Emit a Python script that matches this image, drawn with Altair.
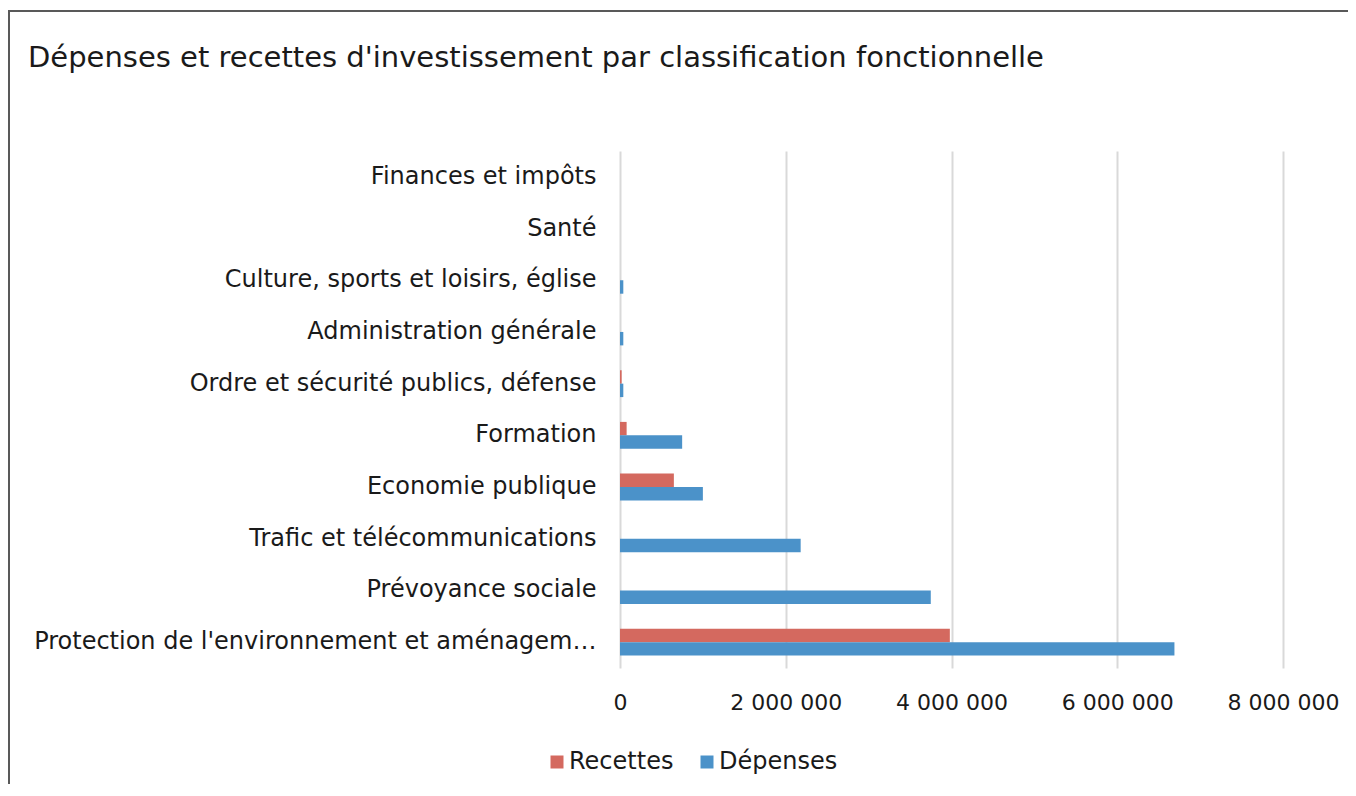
import altair as alt
import pandas as pd

categories = [
    "Finances et impôts",
    "Santé",
    "Culture, sports et loisirs, église",
    "Administration générale",
    "Ordre et sécurité publics, défense",
    "Formation",
    "Economie publique",
    "Trafic et télécommunications",
    "Prévoyance sociale",
    "Protection de l'environnement et aménagement du territoire",
]
recettes = [0, 0, 0, 0, 20000, 80000, 650000, 0, 0, 3980000]
depenses = [0, 0, 40000, 40000, 40000, 750000, 1000000, 2180000, 3750000, 6690000]
series = ["Recettes", "Dépenses"]
colors = ["#d4695f", "#4b92c9"]
x_ticks = [0, 2000000, 4000000, 6000000, 8000000]

rows = []
for c, r, d in zip(categories, recettes, depenses):
    rows.append({"Catégorie": c, "Série": "Recettes", "Montant": r})
    rows.append({"Catégorie": c, "Série": "Dépenses", "Montant": d})
df = pd.DataFrame(rows)

FONT = "DejaVu Sans"
W, H = 663, 517

bars = alt.Chart(df).mark_bar().encode(
    x=alt.X(
        "Montant:Q",
        scale=alt.Scale(domain=[0, 8000000], nice=False),
        axis=alt.Axis(
            values=x_ticks,
            title=None,
            grid=True,
            gridColor="#d9d9d9",
            gridWidth=2,
            domain=False,
            ticks=False,
            labelFont=FONT,
            labelFontSize=22,
            labelColor="#1a1a1a",
            labelPadding=24,
            labelOverlap=False,
            labelFlush=False,
            labelExpr="replace(format(datum.value, ','), /,/g, ' ')",
        ),
    ),
    y=alt.Y(
        "Catégorie:N",
        sort=categories,
        scale=alt.Scale(paddingInner=0.48, paddingOuter=0.24),
        axis=alt.Axis(
            title=None,
            domain=False,
            ticks=False,
            grid=False,
            labelFont=FONT,
            labelFontSize=24,
            labelColor="#1a1a1a",
            labelPadding=24,
            labelLimit=572,
        ),
    ),
    yOffset=alt.YOffset("Série:N", sort=series, scale=alt.Scale(paddingInner=0, paddingOuter=0)),
    color=alt.Color(
        "Série:N",
        sort=series,
        scale=alt.Scale(domain=series, range=colors),
        legend=alt.Legend(
            title=None,
            orient="none",
            direction="horizontal",
            legendX=-75,
            legendY=599,
            symbolType="square",
            symbolSize=169,
            symbolStrokeWidth=0,
            labelFont=FONT,
            labelFontSize=24,
            labelColor="#1a1a1a",
            labelOffset=0,
            columnPadding=21,
        ),
    ),
)

frame = alt.Chart(pd.DataFrame({"f": [0]})).mark_rect(
    filled=False, stroke="#595959", strokeWidth=2
).encode(
    x=alt.value(-611), x2=alt.value(800), y=alt.value(-140), y2=alt.value(700)
)

chart = alt.layer(frame, bars).properties(
    width=W,
    height=H,
    title=alt.TitleParams(
        "Dépenses et recettes d'investissement par classification fonctionnelle",
        anchor="start",
        frame="group",
        dx=-592,
        offset=-86,
        baseline="alphabetic",
        font=FONT,
        fontSize=29,
        fontWeight="normal",
        color="#1a1a1a",
    ),
    autosize=alt.AutoSizeParams(type="none"),
    padding={"left": 612, "top": 143, "right": 65, "bottom": 116},
).configure_view(stroke=None)

chart.save("out.html", embed_options={"renderer": "svg", "actions": False})
